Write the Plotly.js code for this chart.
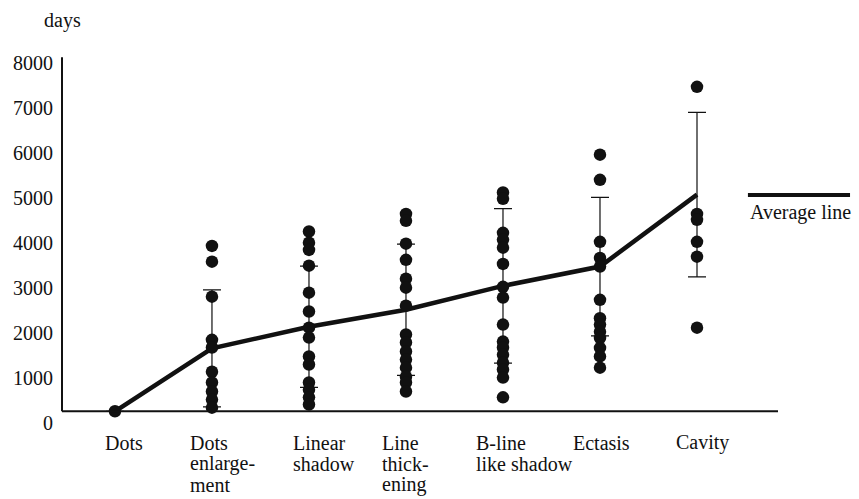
<!DOCTYPE html>
<html>
<head>
<meta charset="utf-8">
<script src="https://cdn.plot.ly/plotly-3.0.1.min.js"></script>
<style>html,body{margin:0;padding:0;background:#fff;}#chart{width:859px;height:499px;}</style>
</head>
<body>
<div id="chart"></div>
<script>
// Categories (display labels with line breaks)
const categories = ["Dots", "Dots<br>enlarge-<br>ment", "Linear<br>shadow", "Line<br>thick-<br>ening", "B-line<br>like shadow", "Ectasis", "Cavity"];

// Individual observations (days) per category
const dotsVals      = [250];
const dotsEnlVals   = [3930, 3580, 2800, 1840, 1670, 1130, 890, 690, 510, 330];
const linearVals    = [4250, 4000, 3840, 3490, 2890, 2470, 2110, 1890, 1470, 1290, 890, 730, 560, 400];
const thickVals     = [4640, 4490, 3980, 3620, 3200, 3000, 2600, 1960, 1780, 1580, 1400, 1220, 1020, 890, 690];
const blineVals     = [5120, 4980, 4220, 4070, 3890, 3530, 3020, 2780, 2180, 1800, 1670, 1510, 1330, 1180, 1000, 560];
const ectasisVals   = [5960, 5400, 4020, 3660, 3470, 2730, 2320, 2180, 2020, 1880, 1660, 1470, 1220];
const cavityVals    = [7470, 4640, 4510, 4020, 3690, 2110];

// Average line and standard-deviation bars
const averages = [250, 1650, 2130, 2510, 3040, 3470, 5070];
const sdVals   = [0, 1300, 1350, 1460, 1720, 1540, 1830];

// Y tick labels
const yTicks = [0, 1000, 2000, 3000, 4000, 5000, 6000, 7000, 8000];

const groups = [dotsVals, dotsEnlVals, linearVals, thickVals, blineVals, ectasisVals, cavityVals];
const idx = categories.map((c, i) => i);

const xs = [], ys = [];
groups.forEach((g, i) => g.forEach(v => { xs.push(i); ys.push(v); }));

const FONT = "Liberation Serif";

const traces = [
  {
    x: idx, y: averages, type: "scatter", mode: "lines",
    line: {color: "#111", width: 4.5},
    error_y: {type: "data", array: sdVals, visible: true, color: "#111", thickness: 1.2, width: 9},
    hoverinfo: "skip", showlegend: false
  },
  {
    x: xs, y: ys, type: "scatter", mode: "markers",
    marker: {color: "#111", size: 12.5},
    showlegend: false
  }
];

// label placement (left edge offsets in px)
const labelShift = [-11, -23, -17, -25, -28, -28, -22];
const LINE_GAP = 21;

const annotations = [];
categories.forEach((c, i) => {
  c.split("<br>").forEach((line, k) => {
    annotations.push({
      x: i, y: 0, xref: "x", yref: "paper", yshift: -6.5 - LINE_GAP * k,
      text: line, showarrow: false, xanchor: "left", yanchor: "middle", align: "left",
      borderpad: 0, xshift: labelShift[i], font: {family: FONT, size: 20, color: "#111"}
    });
  });
});
annotations.push({
  x: -0.028, y: 1.089, xref: "paper", yref: "paper", text: "days", showarrow: false,
  xanchor: "left", yanchor: "middle", font: {family: FONT, size: 20, color: "#111"}
});
annotations.push({
  x: 0.958, y: 0.584, xref: "paper", yref: "paper", text: "Average line", showarrow: false,
  xanchor: "left", yanchor: "middle", font: {family: FONT, size: 20, color: "#111"}
});

const layout = {
  width: 859, height: 499,
  margin: {l: 62, r: 81, t: 54, b: 62.5},
  paper_bgcolor: "#fff", plot_bgcolor: "#fff",
  showlegend: false,
  xaxis: {range: [-0.546, 6.835], showgrid: false, zeroline: false, showline: false, showticklabels: false, ticks: ""},
  yaxis: {range: [-300, 8200], showgrid: false, zeroline: false, showline: false,
          tickvals: yTicks, ticktext: yTicks.map(String), ticks: "", ticklabelstandoff: 8,
          tickfont: {family: FONT, size: 20, color: "#111"}},
  shapes: [
    {type: "line", xref: "paper", yref: "y", x0: 0, x1: 1, y0: 250, y1: 250, line: {color: "#111", width: 2}},
    {type: "line", xref: "paper", yref: "y", x0: 0, x1: 0, y0: 250, y1: 8130, line: {color: "#111", width: 2}},
    {type: "line", xref: "paper", yref: "paper", x0: 0.958, x1: 1.1006, y0: 0.631, y1: 0.631, line: {color: "#111", width: 4}}
  ],
  annotations: annotations
};

Plotly.newPlot("chart", traces, layout, {displayModeBar: false, staticPlot: true});
</script>
</body>
</html>
